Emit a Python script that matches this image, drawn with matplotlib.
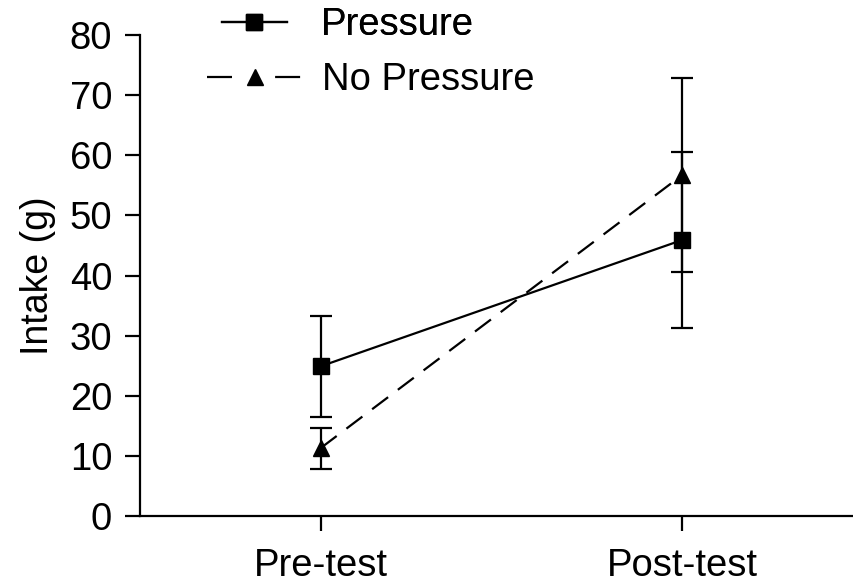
import matplotlib
matplotlib.use("Agg")
import matplotlib.pyplot as plt
from matplotlib.lines import Line2D

plt.rcParams['font.family'] = ['Liberation Sans', 'DejaVu Sans']

categories = ["Pre-test", "Post-test"]
pressure_mean = [24.9, 45.9]
pressure_err = [8.4, 14.6]
nopressure_mean = [11.3, 56.7]
nopressure_err = [3.4, 16.1]
yticks = [0, 10, 20, 30, 40, 50, 60, 70, 80]

fig = plt.figure(figsize=(8.54, 5.85), dpi=100)
ax = fig.add_axes([140/854, 1-516/585, (852-140)/854, (516-35)/585])

x = list(range(len(categories)))
ax.errorbar(x, pressure_mean, yerr=pressure_err, color='black', lw=1.6,
            marker='s', markersize=12, capsize=8, capthick=1.6, elinewidth=1.6)
ax.errorbar(x, nopressure_mean, yerr=nopressure_err, color='black', lw=1.6,
            marker='^', markersize=12, capsize=8, capthick=1.6, elinewidth=1.6,
            dashes=(9, 5.5))

ax.set_xlim(-0.5, 1.47)
ax.set_ylim(0, 80)
ax.set_yticks(yticks)
ax.set_xticks(x)
ax.set_xticklabels(categories)
for s in ['top', 'right']:
    ax.spines[s].set_visible(False)
for s in ['left', 'bottom']:
    ax.spines[s].set_linewidth(1.6)
ax.tick_params(axis='both', direction='out', length=11, width=1.6, labelsize=27.5)
ax.tick_params(axis='y', pad=9)
ax.tick_params(axis='x', pad=12)
ax.set_ylabel('Intake (g)', fontsize=27, labelpad=10)

h1 = Line2D([], [], color='black', lw=1.6, marker='s', markersize=12)
h2 = Line2D([], [], color='black', lw=1.6, marker='^', markersize=12, dashes=(11.25, 19.4))
leg1 = fig.legend([h1], ['Pressure'], loc='center left',
                  bbox_to_anchor=(222/854, 1 - 25/585), frameon=False, fontsize=27.5,
                  handlelength=1.7, handletextpad=0.9, borderpad=0, borderaxespad=0)
leg2 = fig.legend([h2], ['No Pressure'], loc='center left',
                  bbox_to_anchor=(207/854, 1 - 80/585), frameon=False, fontsize=27.5,
                  handlelength=2.5, handletextpad=0.5, borderpad=0, borderaxespad=0)
fig.add_artist(leg1)
fig.savefig('out.png', dpi=100)
